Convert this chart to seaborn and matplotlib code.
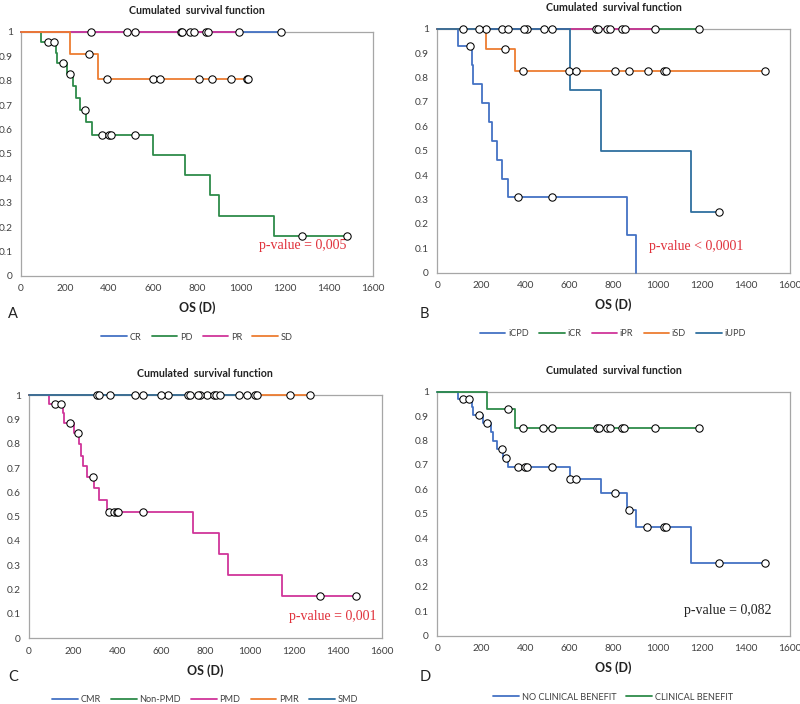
"""Courbes de survie cumulée (Kaplan-Meier), quatre panneaux."""

import matplotlib

matplotlib.use("Agg")
import matplotlib.pyplot as plt
import numpy as np
import seaborn as sns
from matplotlib.lines import Line2D

# ---- panneau A ----
A_CR_T = [0]
A_CR_S = [1.0]
A_CR_C = [1184]
A_PD_T = [0, 91, 157, 165, 209, 236, 251, 266, 297, 322, 600, 744, 859, 902, 1150]
A_PD_S = [1.0, 0.96, 0.915, 0.874, 0.828, 0.779, 0.729, 0.682, 0.63, 0.577, 0.495, 0.413, 0.33, 0.247, 0.165]
A_PD_C = [121, 148, 191, 224, 292, 366, 399, 408, 519, 1275, 1484]
A_PR_T = [0]
A_PR_S = [1.0]
A_PR_C = [319, 483, 519, 728, 734, 770, 788, 840, 849, 989]
A_SD_T = [0, 224, 351]
A_SD_S = [1.0, 0.911, 0.807]
A_SD_C = [310, 389, 599, 632, 808, 868, 953, 1026, 1033]

# ---- panneau B ----
B_CPD_T = [0, 92, 158, 163, 204, 233, 248, 269, 292, 321, 860, 903]
B_CPD_S = [1.0, 0.928, 0.85, 0.775, 0.697, 0.619, 0.541, 0.463, 0.386, 0.31, 0.153, 0.0]
B_CPD_C = [148, 365, 519]
B_CR_T = [0]
B_CR_S = [1.0]
B_CR_C = [118, 221, 292, 407, 519, 1187]
B_PR_T = [0]
B_PR_S = [1.0]
B_PR_C = [189, 319, 395, 482, 720, 731, 768, 784, 839, 850, 989]
B_SD_T = [0, 221, 352]
B_SD_S = [1.0, 0.917, 0.825]
B_SD_C = [308, 389, 599, 631, 808, 868, 954, 1027, 1036, 1487]
B_UPD_T = [0, 600, 744, 1149]
B_UPD_S = [1.0, 0.75, 0.5, 0.25]
B_UPD_C = [1276]

# ---- panneau C ----
C_CMR_T = [0]
C_CMR_S = [1.0]
C_CMR_C = [368, 629, 806]
C_NPMD_T = [0]
C_NPMD_S = [1.0]
C_NPMD_C = [481, 776, 987]
C_PMD_T = [0, 92, 156, 160, 204, 227, 236, 246, 265, 296, 319, 352, 743, 860, 901, 1148]
C_PMD_S = [1.0, 0.963, 0.925, 0.883, 0.842, 0.797, 0.751, 0.709, 0.663, 0.618, 0.569, 0.52, 0.434, 0.346, 0.26, 0.173]
C_PMD_C = [119, 147, 188, 221, 292, 363, 387, 398, 405, 517, 1322, 1484]
C_PMR_T = [0]
C_PMR_S = [1.0]
C_PMR_C = [307, 1184, 1275]
C_SMD_T = [0]
C_SMD_S = [1.0]
C_SMD_C = [316, 517, 599, 723, 730, 768, 841, 848, 866, 951, 1027, 1034]

# ---- panneau D ----
D_NCB_T = [0, 92, 157, 163, 206, 242, 251, 272, 300, 322, 600, 743, 862, 903, 1150]
D_NCB_S = [1.0, 0.97, 0.937, 0.905, 0.872, 0.836, 0.80, 0.766, 0.73, 0.69, 0.643, 0.583, 0.516, 0.444, 0.297]
D_NCB_C = [118, 145, 191, 224, 292, 312, 365, 399, 407, 519, 600, 631, 808, 868, 953, 1027, 1036, 1277, 1486]
D_CB_T = [0, 225, 352]
D_CB_S = [1.0, 0.928, 0.851]
D_CB_C = [319, 389, 481, 519, 723, 733, 771, 783, 838, 849, 989, 1186]

BLEU = "#4472C4"
VERT = "#2E8B4A"
MAGENTA = "#D0359A"
ORANGE = "#ED7D31"
BLEU_FONCE = "#2F6F9F"
GRIS = "#A6A6A6"

PANNEAUX = [
    {
        "rect": (0.02625, 0.608, 0.44, 0.3466),
        "lettre": ("A", 8, 314),
        "legende": (197, 337),
        "p": ("p-value = 0,005", 1282, 0.123, "#E0303A"),
        "series": [
            ("CR", BLEU, A_CR_T, A_CR_S, A_CR_C),
            ("PD", VERT, A_PD_T, A_PD_S, A_PD_C),
            ("PR", MAGENTA, A_PR_T, A_PR_S, A_PR_C),
            ("SD", ORANGE, A_SD_T, A_SD_S, A_SD_C),
        ],
    },
    {
        "rect": (0.5466, 0.6126, 0.4409, 0.3466),
        "lettre": ("B", 420, 314),
        "legende": (613, 334),
        "p": ("p-value < 0,0001", 1174, 0.109, "#E0303A"),
        "series": [
            ("iCPD", BLEU, B_CPD_T, B_CPD_S, B_CPD_C),
            ("iCR", VERT, B_CR_T, B_CR_S, B_CR_C),
            ("iPR", MAGENTA, B_PR_T, B_PR_S, B_PR_C),
            ("iSD", ORANGE, B_SD_T, B_SD_S, B_SD_C),
            ("iUPD", BLEU_FONCE, B_UPD_T, B_UPD_S, B_UPD_C),
        ],
    },
    {
        "rect": (0.03625, 0.0933, 0.4409, 0.3456),
        "lettre": ("C", 8, 677),
        "legende": (205, 700),
        "p": ("p-value = 0,001", 1379, 0.089, "#E0303A"),
        "series": [
            ("CMR", BLEU, C_CMR_T, C_CMR_S, C_CMR_C),
            ("Non-PMD", VERT, C_NPMD_T, C_NPMD_S, C_NPMD_C),
            ("PMD", MAGENTA, C_PMD_T, C_PMD_S, C_PMD_C),
            ("PMR", ORANGE, C_PMR_T, C_PMR_S, C_PMR_C),
            ("SMD", BLEU_FONCE, C_SMD_T, C_SMD_S, C_SMD_C),
        ],
    },
    {
        "rect": (0.5466, 0.097, 0.4409, 0.3466),
        "lettre": ("D", 420, 677),
        "legende": (613, 697),
        "p": ("p-value = 0,082", 1318, 0.105, "#222222"),
        "series": [
            ("NO CLINICAL BENEFIT", BLEU, D_NCB_T, D_NCB_S, D_NCB_C),
            ("CLINICAL BENEFIT", VERT, D_CB_T, D_CB_S, D_CB_C),
        ],
    },
]


def survie_a(temps, survie, t):
    i = np.searchsorted(temps, t, side="right") - 1
    return survie[i]


def tracer_panneau(fig, p):
    ax = fig.add_axes(p["rect"])
    for nom, couleur, temps, survie, cens in p["series"]:
        fin = max(temps[-1], max(cens) if cens else 0)
        x = list(temps) + ([fin] if fin > temps[-1] else [])
        y = list(survie) + ([survie[-1]] if fin > temps[-1] else [])
        sns.lineplot(x=x, y=y, ax=ax, color=couleur, lw=1.3, drawstyle="steps-post",
                     estimator=None, sort=False, clip_on=False, zorder=3)
    for nom, couleur, temps, survie, cens in p["series"]:
        cy = [survie_a(temps, survie, t) for t in cens]
        sns.scatterplot(x=cens, y=cy, ax=ax, s=28, color="white", edgecolor="black",
                        linewidth=0.75, zorder=5, clip_on=False)

    ax.set_xlim(0, 1600)
    ax.set_ylim(0, 1)
    ax.set_xticks(range(0, 1601, 200))
    ax.set_yticks(np.arange(0, 1.01, 0.1))
    ax.set_yticklabels([f"{v:g}" for v in np.round(np.arange(0, 1.01, 0.1), 1)])
    ax.tick_params(labelsize=7.3, colors=GRIS, labelcolor="#404040", length=3, width=0.8, pad=3)
    for s in ax.spines.values():
        s.set_visible(True)
        s.set_color(GRIS)
        s.set_linewidth(0.9)
        s.set_zorder(1)
    ax.set_facecolor("white")

    ax.set_title("Cumulated  survival function", fontsize=7.7, fontweight="bold", pad=13, color="#222222")
    ax.set_xlabel("OS (D)", fontsize=9, fontweight="bold", labelpad=6, color="#222222")
    ax.set_ylabel("")

    texte, px, py, pc = p["p"]
    ax.text(px, py, texte, ha="center", va="center", color=pc, fontsize=10,
            family="Liberation Serif")

    lettre, lx, ly = p["lettre"]
    fig.text(lx / 800, 1 - ly / 704, lettre, fontsize=10.5, ha="left", va="center", color="#222222")

    poignees = [Line2D([], [], color=c, lw=1.3) for _, c, *_ in p["series"]]
    noms = [s[0] for s in p["series"]]
    cx, cy = p["legende"]
    fig.legend(poignees, noms, loc="center", bbox_to_anchor=(cx / 800, 1 - cy / 704),
               ncol=len(noms), frameon=False, fontsize=6.6, handlelength=2.8,
               handletextpad=0.3, columnspacing=1.1, labelcolor="#404040")


def main():
    sns.set_theme(style="white")
    plt.rcParams["font.family"] = ["Lato", "DejaVu Sans"]
    fig = plt.figure(figsize=(8, 7.04), dpi=100)
    for p in PANNEAUX:
        tracer_panneau(fig, p)
    fig.savefig("out.png", dpi=100, facecolor="white")
    plt.close(fig)


if __name__ == "__main__":
    main()
